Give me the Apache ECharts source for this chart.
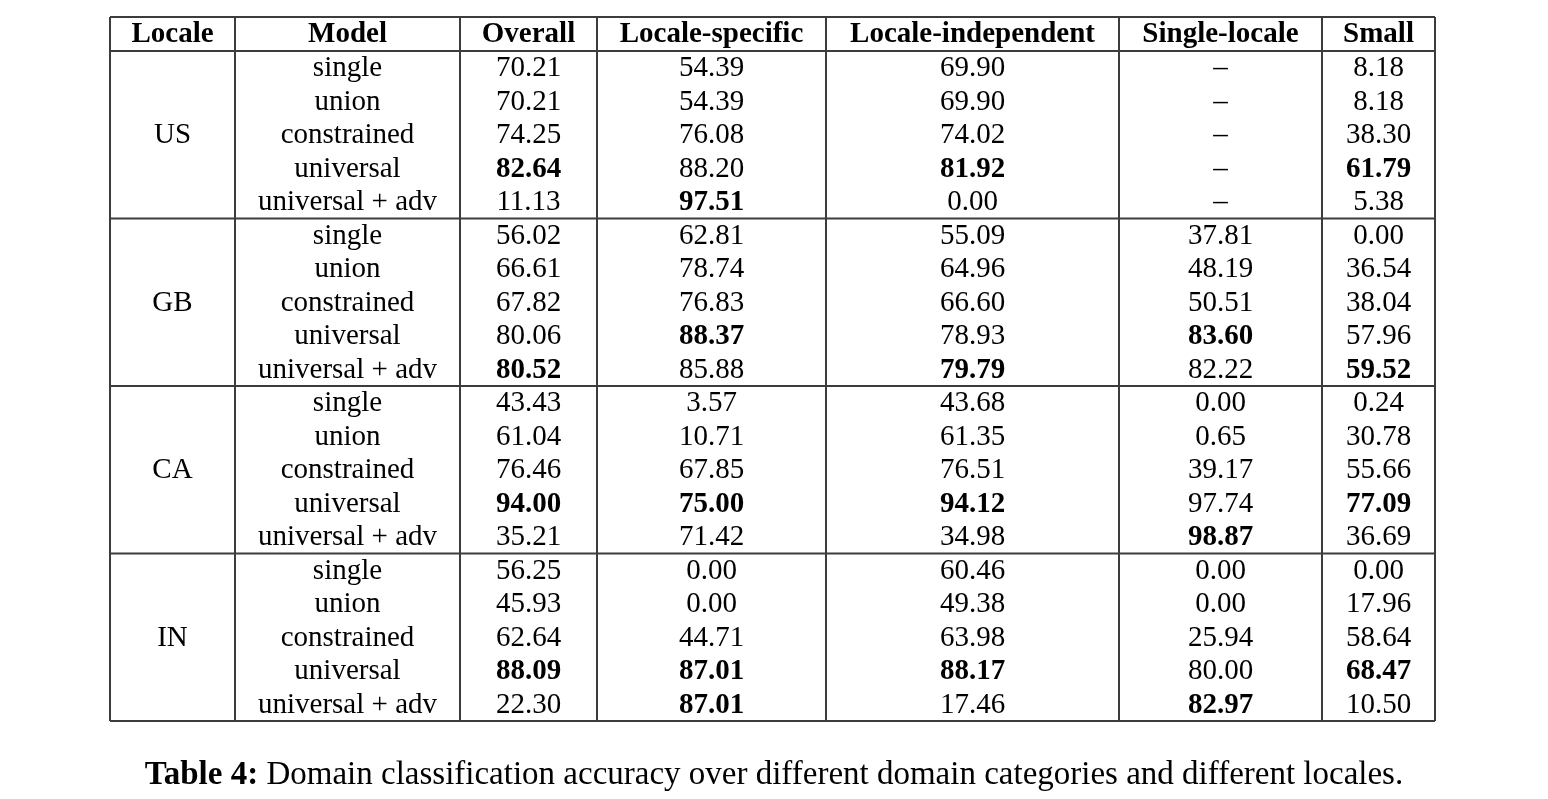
<!DOCTYPE html>
<html>
<head>
<meta charset="utf-8">
<script src="https://cdn.jsdelivr.net/npm/echarts@6/dist/echarts.min.js"></script>
<style>
html,body{margin:0;padding:0;background:#fff;}
#chart{width:1548px;height:799px;}
</style>
</head>
<body>
<div id="chart"></div>
<script>
// ---- data ----
const columns = ['Locale', 'Model', 'Overall', 'Locale-specific', 'Locale-independent', 'Single-locale', 'Small'];
const locales = ['US', 'GB', 'CA', 'IN'];
const models = ['single', 'union', 'constrained', 'universal', 'universal + adv'];
const overall = [70.21, 70.21, 74.25, 82.64, 11.13, 56.02, 66.61, 67.82, 80.06, 80.52, 43.43, 61.04, 76.46, 94.00, 35.21, 56.25, 45.93, 62.64, 88.09, 22.30];
const localeSpecific = [54.39, 54.39, 76.08, 88.20, 97.51, 62.81, 78.74, 76.83, 88.37, 85.88, 3.57, 10.71, 67.85, 75.00, 71.42, 0.00, 0.00, 44.71, 87.01, 87.01];
const localeIndependent = [69.90, 69.90, 74.02, 81.92, 0.00, 55.09, 64.96, 66.60, 78.93, 79.79, 43.68, 61.35, 76.51, 94.12, 34.98, 60.46, 49.38, 63.98, 88.17, 17.46];
const singleLocale = [null, null, null, null, null, 37.81, 48.19, 50.51, 83.60, 82.22, 0.00, 0.65, 39.17, 97.74, 98.87, 0.00, 0.00, 25.94, 80.00, 82.97];
const small = [8.18, 8.18, 38.30, 61.79, 5.38, 0.00, 36.54, 38.04, 57.96, 59.52, 0.24, 30.78, 55.66, 77.09, 36.69, 0.00, 17.96, 58.64, 68.47, 10.50];
const captionLabel = 'Table 4:';
const captionText = 'Domain classification accuracy over different domain categories and different locales.';

// ---- layout (table units, not data) ----
const colEdges = [0, 125, 350, 487, 716, 1009, 1212, 1325];
const headerH = 34;
const rowH = 33.5;
const tableH = headerH + rowH * locales.length * models.length;
const FONT = '"Liberation Serif", "Times New Roman", serif';
const FS = 29;
const CAP_FS = 33;
const textShift = 1;

const valueCols = [overall, localeSpecific, localeIndependent, singleLocale, small];

// build cell items: [xCenter, yCenter, text, bold]
const cells = [];
const colCenter = c => (colEdges[c] + colEdges[c + 1]) / 2;
columns.forEach((name, c) => cells.push([colCenter(c), headerH / 2, name, 1]));
locales.forEach((loc, g) => {
  const n = models.length;
  cells.push([colCenter(0), headerH + (g * n + n / 2) * rowH, loc, 0]);
  models.forEach((m, i) => {
    const r = g * n + i;
    const y = headerH + (r + 0.5) * rowH;
    cells.push([colCenter(1), y, m, 0]);
    valueCols.forEach((arr, k) => {
      const grp = arr.slice(g * n, g * n + n).filter(v => v !== null);
      const mx = grp.length ? Math.max(...grp) : null;
      const v = arr[r];
      const txt = v === null ? '\u2013' : v.toFixed(2);
      const bold = v !== null && v === mx ? 1 : 0;
      cells.push([colCenter(k + 2), y, txt, bold]);
    });
  });
});

// lines: [x1, y1, x2, y2]
const lines = [];
const hY = [0, headerH];
locales.forEach((_, g) => hY.push(headerH + (g + 1) * models.length * rowH));
hY.forEach(y => lines.push([0, y, colEdges[colEdges.length - 1], y]));
colEdges.forEach(x => lines.push([x, 0, x, tableH]));

const chart = echarts.init(document.getElementById('chart'), null, {renderer: 'canvas'});
chart.setOption({
  backgroundColor: '#ffffff',
  animation: false,
  title: {
    text: '{b|' + captionLabel + '} ' + captionText,
    left: 'center',
    top: 754,
    textStyle: {
      fontFamily: FONT, fontSize: CAP_FS, fontWeight: 'normal', color: '#000',
      rich: { b: { fontFamily: FONT, fontSize: CAP_FS, fontWeight: 'bold', color: '#000' } }
    }
  },
  grid: { left: 110, top: 17, width: 1325, height: 704, containLabel: false },
  xAxis: { type: 'value', min: 0, max: colEdges[colEdges.length - 1], show: false },
  yAxis: { type: 'value', min: 0, max: tableH, inverse: true, show: false },
  series: [
    {
      type: 'custom',
      data: lines,
      silent: true,
      renderItem: (params, api) => {
        const p1 = api.coord([api.value(0), api.value(1)]);
        const p2 = api.coord([api.value(2), api.value(3)]);
        return {
          type: 'line',
          shape: { x1: p1[0], y1: p1[1], x2: p2[0], y2: p2[1] },
          style: { stroke: '#3c3c3c', lineWidth: 2 }
        };
      }
    },
    {
      type: 'custom',
      data: cells,
      silent: true,
      renderItem: (params, api) => {
        const p = api.coord([api.value(0), api.value(1)]);
        const item = cells[params.dataIndex];
        return {
          type: 'text',
          x: p[0], y: p[1] + textShift,
          style: {
            text: item[2],
            x: 0, y: 0,
            align: 'center', verticalAlign: 'middle',
            font: (item[3] ? 'bold ' : '') + FS + 'px ' + FONT,
            fill: '#000'
          }
        };
      }
    }
  ]
});
</script>
</body>
</html>
